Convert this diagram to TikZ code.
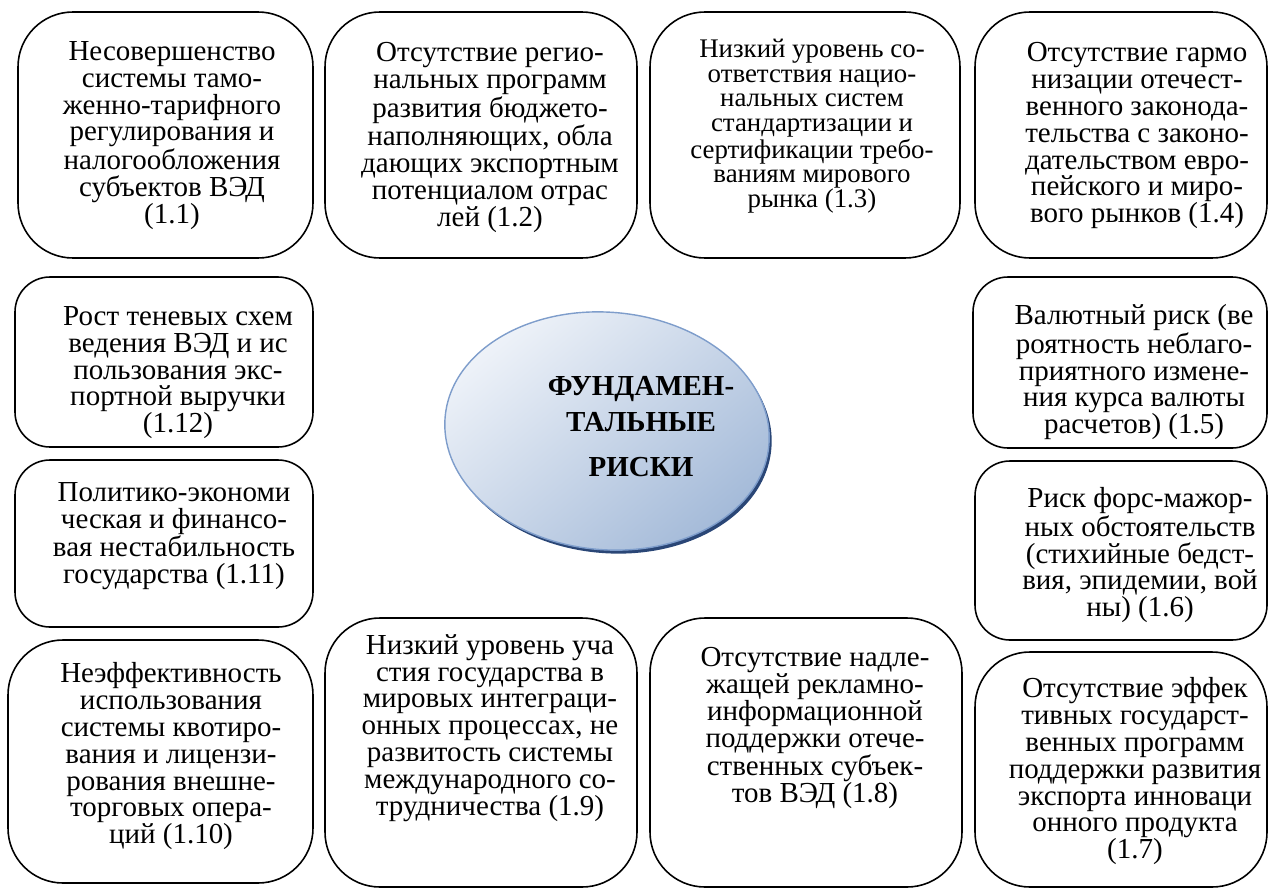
\documentclass[tikz,border=0pt]{standalone}
\usepackage{fontspec}
\setmainfont{Liberation Serif}
\usetikzlibrary{fit,shadows,shapes.geometric}
\definecolor{coreLight}{HTML}{EFF3F9}
\definecolor{coreDark}{HTML}{A5BBD9}
\definecolor{coreEdge}{HTML}{7E9DCB}
\definecolor{coreShade}{HTML}{2A4676}

\begin{document}
\begin{tikzpicture}[x=0.02cm, y=-0.02cm,
    riskbox/.style={draw, line width=0.9pt, rounded corners=#1, inner sep=0pt},
    riskbox/.default=1.1cm,
    risktext/.style={align=center, inner sep=0pt, anchor=north,
        font=\fontsize{16.5pt}{15.3pt}\selectfont},
    core/.style={ellipse, draw=coreEdge, line width=0.8pt, shading=axis,
        top color=coreLight, bottom color=coreDark, shading angle=40,
        general shadow={fill=coreShade, shadow xshift=0.05cm, shadow yshift=-0.07cm},
        minimum width=6.5cm, minimum height=4.75cm, inner sep=0pt},
    coretext/.style={align=center, inner sep=0pt, anchor=north,
        font=\bfseries\fontsize{16.5pt}{20.5pt}\selectfont}]

    % Page frame
    \useasboundingbox (0,0) rectangle (1270,889);

    % Draw the central ellipse
    \node[core, rotate=-5] (core) at (607,431) {};
    \node[coretext] (coretxt) at (641,376) {ФУНДАМЕН-\\ТАЛЬНЫЕ\\[5pt]РИСКИ};

    % Top row of risks
    \node[riskbox, fit={(18,12) (313,258)}] (r11) {};
    \node[risktext] (t11) at (172,41) {Несовершенство\\системы тамо-\\женно-тарифного\\регулирования и\\налогообложения\\субъектов ВЭД\\(1.1)};
    \node[riskbox, fit={(325,12) (637,258)}] (r12) {};
    \node[risktext] (t12) at (490,42) {Отсутствие регио-\\нальных программ\\развития бюджето-\\наполняющих, обла\\дающих экспортным\\потенциалом отрас\\лей (1.2)};
    \node[riskbox, fit={(650,12) (960,258)}] (r13) {};
    \node[risktext, font=\fontsize{15.3pt}{14pt}\selectfont] (t13) at (812,39) {Низкий уровень со-\\ответствия нацио-\\нальных систем\\стандартизации и\\сертификации требо-\\ваниям мирового\\рынка (1.3)};
    \node[riskbox, fit={(975,12) (1267,258)}] (r14) {};
    \node[risktext] (t14) at (1137,42) {Отсутствие гармо\\низации отечест-\\венного законода-\\тельства с законо-\\дательством евро-\\пейского и миро-\\вого рынков (1.4)};

    % Left column
    \node[riskbox=0.7cm, fit={(15,277) (313,447)}] (r112) {};
    \node[risktext] (t112) at (178,306) {Рост теневых схем\\ведения ВЭД и ис\\пользования экс-\\портной выручки\\(1.12)};
    \node[riskbox=0.7cm, fit={(15,460) (313,627)}] (r111) {};
    \node[risktext] (t111) at (174,482) {Политико-экономи\\ческая и финансо-\\вая нестабильность\\государства (1.11)};
    \node[riskbox, fit={(8,640) (313,883)}] (r110) {};
    \node[risktext] (t110) at (171,662) {Неэффективность\\использования\\системы квотиро-\\вания и лицензи-\\рования внешне-\\торговых опера-\\ций (1.10)};

    % Right column
    \node[riskbox=0.7cm, fit={(973,277) (1267,448)}] (r15) {};
    \node[risktext] (t15) at (1134,304) {Валютный риск (ве\\роятность неблаго-\\приятного измене-\\ния курса валюты\\расчетов) (1.5)};
    \node[riskbox=0.7cm, fit={(975,461) (1267,640)}] (r16) {};
    \node[risktext] (t16) at (1140,487) {Риск форс-мажор-\\ных обстоятельств\\(стихийные бедст-\\вия, эпидемии, вой\\ны) (1.6)};
    \node[riskbox, fit={(975,652) (1267,887)}] (r17) {};
    \node[risktext] (t17) at (1135,677) {Отсутствие эффек\\тивных государст-\\венных программ\\поддержки развития\\экспорта инноваци\\онного продукта\\(1.7)};

    % Bottom row
    \node[riskbox, fit={(325,618) (637,887)}] (r19) {};
    \node[risktext] (t19) at (490,634) {Низкий уровень уча\\стия государства в\\мировых интеграци-\\онных процессах, не\\развитость системы\\международного со-\\трудничества (1.9)};
    \node[riskbox, fit={(650,618) (962,887)}] (r18) {};
    \node[risktext] (t18) at (815,647) {Отсутствие надле-\\жащей рекламно-\\информационной\\поддержки отече-\\ственных субъек-\\тов ВЭД (1.8)};
\end{tikzpicture}
\end{document}
